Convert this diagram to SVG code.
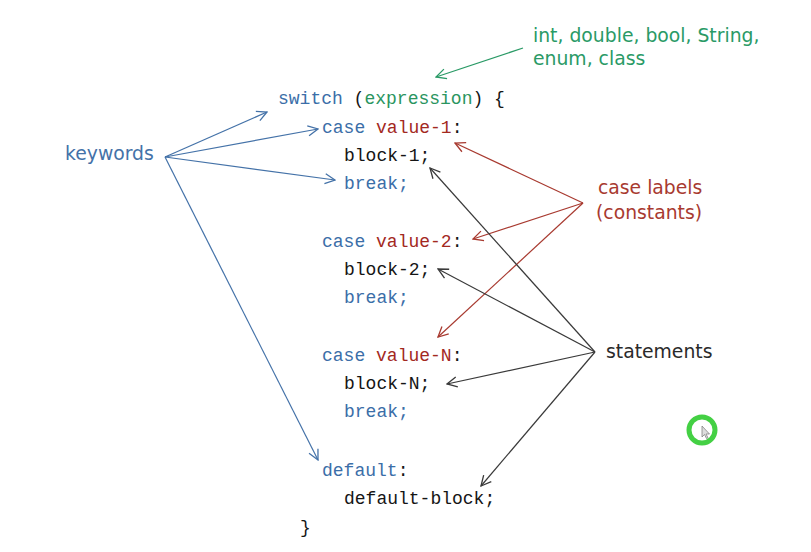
<svg xmlns="http://www.w3.org/2000/svg" width="811" height="552" viewBox="0 0 811 552">
<style>
.code{font-family:"Liberation Mono","DejaVu Sans Mono",monospace;font-size:18px;fill:#151515}
.kw{fill:#3b6ea8}.ex{fill:#2a9560}.val{fill:#a3291f}
.lbl{font-family:"DejaVu Sans","Noto Sans",sans-serif;font-size:18.8px}
.blue{stroke:#4472a8}.green{stroke:#2a9a66}.red{stroke:#a83a30}.dark{stroke:#3a3a3a}
.conn line{stroke-width:1.2;fill:none}
</style>
<defs>
<marker id="mb" viewBox="0 0 12 12" refX="11" refY="6" markerWidth="12" markerHeight="12" markerUnits="userSpaceOnUse" orient="auto"><path d="M1,1 L11,6 L1,11" fill="none" stroke="#4472a8" stroke-width="1.3"/></marker>
<marker id="mg" viewBox="0 0 12 12" refX="11" refY="6" markerWidth="12" markerHeight="12" markerUnits="userSpaceOnUse" orient="auto"><path d="M1,1 L11,6 L1,11" fill="none" stroke="#2a9a66" stroke-width="1.3"/></marker>
<marker id="mr" viewBox="0 0 12 12" refX="11" refY="6" markerWidth="12" markerHeight="12" markerUnits="userSpaceOnUse" orient="auto"><path d="M1,1 L11,6 L1,11" fill="none" stroke="#a83a30" stroke-width="1.3"/></marker>
<marker id="md" viewBox="0 0 12 12" refX="11" refY="6" markerWidth="12" markerHeight="12" markerUnits="userSpaceOnUse" orient="auto"><path d="M1,1 L11,6 L1,11" fill="none" stroke="#3a3a3a" stroke-width="1.3"/></marker>
</defs>
<rect width="811" height="552" fill="#ffffff"/>

<g id="code">
<text class="code" x="278" y="104"><tspan class="kw">switch</tspan> (<tspan class="ex">expression</tspan>) {</text>
<text class="code" x="322" y="133"><tspan class="kw">case</tspan> <tspan class="val">value-1</tspan>:</text>
<text class="code" x="344" y="161">block-1;</text>
<text class="code kw" x="344" y="189">break;</text>
<text class="code" x="322" y="247"><tspan class="kw">case</tspan> <tspan class="val">value-2</tspan>:</text>
<text class="code" x="344" y="275">block-2;</text>
<text class="code kw" x="344" y="303">break;</text>
<text class="code" x="322" y="361"><tspan class="kw">case</tspan> <tspan class="val">value-N</tspan>:</text>
<text class="code" x="344" y="389">block-N;</text>
<text class="code kw" x="344" y="417">break;</text>
<text class="code" x="322" y="476"><tspan class="kw">default</tspan>:</text>
<text class="code" x="344" y="504">default-block;</text>
<text class="code" x="300" y="533">}</text>
</g>

<g id="types"><text class="lbl" fill="#2a9a66" x="533" y="42">int, double, bool, String,</text><text class="lbl" fill="#2a9a66" x="533" y="65">enum, class</text></g>
<g id="keywords"><text class="lbl" fill="#4472a8" x="65" y="160">keywords</text></g>
<g id="caselabels"><text class="lbl" fill="#a83a30" x="598" y="194">case labels</text><text class="lbl" fill="#a83a30" x="596" y="219">(constants)</text></g>
<g id="statements"><text class="lbl" fill="#2a2a2a" x="606" y="358">statements</text></g>

<g id="connectors" class="conn">
<line class="green" x1="523" y1="48" x2="436" y2="77" marker-end="url(#mg)"/>
<line class="blue" x1="165" y1="157" x2="267" y2="112" marker-end="url(#mb)"/>
<line class="blue" x1="165" y1="157" x2="318" y2="129" marker-end="url(#mb)"/>
<line class="blue" x1="165" y1="157" x2="335" y2="180" marker-end="url(#mb)"/>
<line class="blue" x1="165" y1="157" x2="318" y2="460" marker-end="url(#mb)"/>
<line class="red" x1="583" y1="203" x2="455" y2="143" marker-end="url(#mr)"/>
<line class="red" x1="583" y1="203" x2="473" y2="239" marker-end="url(#mr)"/>
<line class="red" x1="583" y1="203" x2="438" y2="337" marker-end="url(#mr)"/>
<line class="dark" x1="595" y1="352" x2="430" y2="168" marker-end="url(#md)"/>
<line class="dark" x1="595" y1="352" x2="438" y2="269" marker-end="url(#md)"/>
<line class="dark" x1="595" y1="352" x2="447" y2="384" marker-end="url(#md)"/>
<line class="dark" x1="595" y1="352" x2="481" y2="486" marker-end="url(#md)"/>
</g>

<g id="cursor">
<circle cx="702" cy="430" r="13" fill="none" stroke="#44d044" stroke-width="5"/>
<path d="M702,426 L702,437 L704.5,434.5 L706.5,438.5 L708,437.8 L706,434 L709.5,434 Z" fill="#ddd" stroke="#777" stroke-width="0.7"/>
</g>
</svg>
